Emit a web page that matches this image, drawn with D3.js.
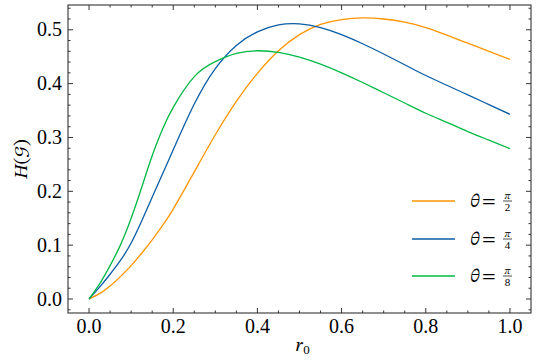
<!DOCTYPE html>
<meta charset="utf-8">
<style>
body { margin: 0; background: #fff; }
</style>
<svg width="537" height="364" font-family="Liberation Serif"></svg>
<script src="https://d3js.org/d3.v7.min.js"></script>
<script>

var rValues = [0, 0.025, 0.05, 0.075, 0.1, 0.125, 0.15, 0.175, 0.2, 0.25, 0.3, 0.35, 0.4,
               0.45, 0.5, 0.55, 0.6, 0.65, 0.7, 0.75, 0.8, 0.85, 0.9, 0.95, 1.0];
var hHalfPi = [0, 0.010, 0.024, 0.042, 0.062, 0.085, 0.110, 0.137, 0.167, 0.236, 0.305, 0.367, 0.419,
               0.461, 0.491, 0.510, 0.519, 0.522, 0.520, 0.514, 0.504, 0.490, 0.475, 0.460, 0.445];
var hQuarterPi = [0, 0.022, 0.046, 0.072, 0.104, 0.145, 0.189, 0.233, 0.277, 0.362, 0.428, 0.471, 0.496,
                  0.509, 0.511, 0.504, 0.491, 0.474, 0.455, 0.435, 0.415, 0.397, 0.379, 0.361, 0.343];
var hEighthPi = [0, 0.028, 0.062, 0.101, 0.150, 0.207, 0.266, 0.316, 0.356, 0.413, 0.441, 0.456, 0.461,
                 0.458, 0.449, 0.436, 0.420, 0.402, 0.383, 0.364, 0.345, 0.328, 0.311, 0.295, 0.279];
var seriesNames = ["2", "4", "8"];   // denominators of pi in the legend
var seriesColors = ["#FF9500", "#0C5DA5", "#00B945"];
var xTicks = [0, 0.2, 0.4, 0.6, 0.8, 1.0];
var yTicks = [0, 0.1, 0.2, 0.3, 0.4, 0.5];

var series = [hHalfPi, hQuarterPi, hEighthPi];
var mathFont = "STIX Two Math";

var svg = d3.select("svg"),
    margin = {top: 5, right: 6, bottom: 51, left: 68},
    width = +svg.attr("width") - margin.left - margin.right,
    height = +svg.attr("height") - margin.top - margin.bottom;

var x = d3.scaleLinear().domain([-0.05, 1.05]).range([0, width]),
    y = d3.scaleLinear().domain([-0.026, 0.546]).range([height, 0]);

var g = svg.append("g")
    .attr("transform", "translate(" + margin.left + "," + margin.top + ")");

var line = d3.line()
    .x(function(d) { return x(d[0]); })
    .y(function(d) { return y(d[1]); })
    .curve(d3.curveNatural);

series.forEach(function(vals, i) {
  g.append("path")
    .datum(rValues.map(function(r, j) { return [r, vals[j]]; }))
    .attr("fill", "none")
    .attr("stroke", seriesColors[i])
    .attr("stroke-width", 1.3)
    .attr("d", line);
});

// frame and inward ticks on all sides
var tickColor = "#333";
var xMinor = d3.range(0, 1.0001, 0.05).filter(function(v) { return Math.abs(v * 5 - Math.round(v * 5)) > 1e-6; });
var yMinor = d3.range(-0.02, 0.5401, 0.02).filter(function(v) { return Math.abs(v * 10 - Math.round(v * 10)) > 1e-6; });

function ticks(vals, len, axis) {
  vals.forEach(function(v) {
    if (axis === "x") {
      var px = x(v);
      g.append("line").attr("x1", px).attr("x2", px).attr("y1", height).attr("y2", height - len).attr("stroke", tickColor);
      g.append("line").attr("x1", px).attr("x2", px).attr("y1", 0).attr("y2", len).attr("stroke", tickColor);
    } else {
      var py = y(v);
      g.append("line").attr("x1", 0).attr("x2", len).attr("y1", py).attr("y2", py).attr("stroke", tickColor);
      g.append("line").attr("x1", width).attr("x2", width - len).attr("y1", py).attr("y2", py).attr("stroke", tickColor);
    }
  });
}
ticks(xTicks, 5, "x");
ticks(xMinor, 2.5, "x");
ticks(yTicks, 5, "y");
ticks(yMinor, 2.5, "y");

g.append("rect")
  .attr("width", width).attr("height", height)
  .attr("fill", "none").attr("stroke", tickColor).attr("stroke-width", 1.1);

g.selectAll(".xl").data(xTicks).enter().append("text")
  .attr("font-family", "Liberation Serif")
  .attr("font-size", 20)
  .attr("x", function(d) { return x(d); })
  .attr("y", height + 20)
  .attr("text-anchor", "middle")
  .text(function(d) { return d.toFixed(1); });

g.selectAll(".yl").data(yTicks).enter().append("text")
  .attr("font-family", "Liberation Serif")
  .attr("font-size", 20)
  .attr("x", -6)
  .attr("y", function(d) { return y(d); })
  .attr("dy", "0.33em")
  .attr("text-anchor", "end")
  .text(function(d) { return d.toFixed(1); });

// axis labels
var xl = svg.append("text")
  .attr("x", margin.left + x(0.5) - 4)
  .attr("y", 351)
  .attr("font-family", mathFont)
  .attr("font-size", 19);
xl.append("tspan").text("\uD835\uDC5F");
xl.append("tspan").attr("dy", 3).attr("font-size", 13).attr("font-family", "Liberation Serif").text("0");

svg.append("text")
  .attr("transform", "translate(27," + (margin.top + height / 2) + ") rotate(-90)")
  .attr("text-anchor", "middle")
  .attr("font-family", mathFont)
  .attr("font-size", 19)
  .text("\uD835\uDC3B(\uD835\uDCA2)");

// legend
var legY = [201, 239, 276];
seriesNames.forEach(function(n, i) {
  var ly = legY[i];
  svg.append("line").attr("x1", 412).attr("x2", 455).attr("y1", ly).attr("y2", ly)
    .attr("stroke", seriesColors[i]).attr("stroke-width", 1.3);
  svg.append("text").attr("x", 470).attr("y", ly + 6)
    .attr("font-family", mathFont).attr("font-size", 19).text("\uD835\uDF03");
  svg.append("text").attr("x", 482).attr("y", ly + 6)
    .attr("font-family", mathFont).attr("font-size", 19).text("=");
  svg.append("text").attr("x", 507.5).attr("y", ly - 2).attr("text-anchor", "middle")
    .attr("font-family", mathFont).attr("font-size", 10.5).text("\uD835\uDF0B");
  svg.append("line").attr("x1", 503).attr("x2", 512).attr("y1", ly).attr("y2", ly)
    .attr("stroke", "#000").attr("stroke-width", 0.7);
  svg.append("text").attr("x", 507.5).attr("y", ly + 9.5).attr("text-anchor", "middle")
    .attr("font-family", "Liberation Serif").attr("font-size", 11).text(n);
});

</script>
